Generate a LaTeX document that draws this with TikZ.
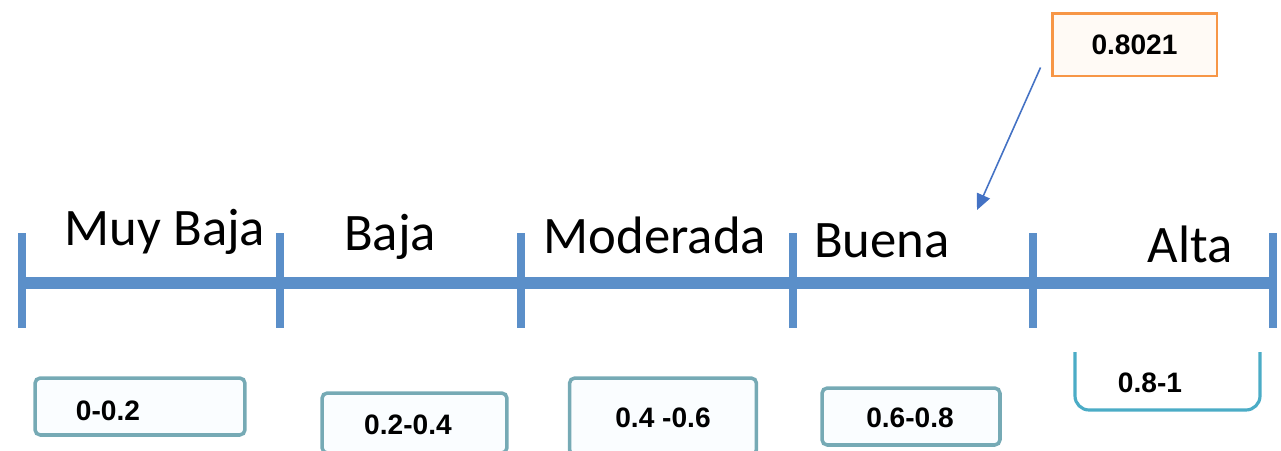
\documentclass[tikz,border=0pt]{standalone}
\usepackage{fontspec}
\setmainfont{Liberation Sans}
\newfontfamily\calibri{Carlito}
\usepackage{xcolor}
\usetikzlibrary{calc, positioning, arrows.meta}
\definecolor{axisblue}{HTML}{5B8FC9}
\definecolor{boxteal}{HTML}{76AAB5}
\definecolor{brackblue}{HTML}{4BACC6}
\definecolor{valorange}{HTML}{F79646}
\definecolor{arrowblue}{HTML}{4472C4}

\begin{document}
\begin{tikzpicture}[x=0.02cm,y=-0.02cm,
                    level label/.style={font=\calibri\fontsize{30}{32}\selectfont,anchor=base,inner sep=0pt},
                    range box/.style={draw=boxteal,line width=2pt,fill=cyan!2,rounded corners=3pt,inner sep=0pt},
                    range text/.style={font=\bfseries\fontsize{16}{18}\selectfont,inner sep=0pt},
                    tick line/.style={draw=axisblue,line width=5pt},
                    pointer/.style={draw=arrowblue,line width=0.9pt,-{Triangle[length=9pt,width=8pt]}}]

  \useasboundingbox (0,0) rectangle (1281,450);

  % axis and ticks
  \coordinate (t0) at (22,283);
  \coordinate (t1) at (280,283);
  \coordinate (t2) at (521,283);
  \coordinate (t3) at (793,283);
  \coordinate (t4) at (1033,283);
  \coordinate (t5) at (1273,283);
  \draw[axisblue,line width=6.5pt] (t0) -- (t5);
  \foreach \t in {t0,t1,t2,t3,t4,t5}
    \draw[tick line] ($(\t)+(0,-50)$) -- ($(\t)+(0,45)$);

  % level names
  \node[level label] (muybaja) at (165,245) {Muy Baja};
  \node[level label] (baja) at (390,250) {Baja};
  \node[level label] (moderada) at (655,253) {Moderada};
  \node[level label] (buena) at (882,257) {Buena};
  \node[level label] (alta) at (1190,262) {Alta};

  % range boxes
  \node[range box,minimum width=4.2cm,minimum height=1.14cm] (box1) at (140,406.5) {};
  \node[range box,minimum width=3.7cm,minimum height=1.2cm] (box2) at (414.5,423) {};
  \node[range box,minimum width=3.74cm,minimum height=1.54cm] (box3) at (663,416.5) {};
  \node[range box,minimum width=3.56cm,minimum height=1.14cm] (box4) at (911,416.5) {};
  \coordinate (brl) at (1075,352);
  \coordinate (brr) at (1260,352);
  \draw[brackblue,line width=1.8pt,rounded corners=8pt] (brl) |- (1167,410) -| (brr);

  \node[range text] (r1) at (108,411) {0-0.2};
  \node[range text] (r2) at (408,425) {0.2-0.4};
  \node[range text] (r3) at (663,418) {0.4 -0.6};
  \node[range text] (r4) at (910,418) {0.6-0.8};
  \node[range text] (r5) at (1150,383) {0.8-1};

  % value and pointer
  \node[draw=valorange,line width=1.7pt,fill=orange!4,minimum width=3.3cm,minimum height=1.26cm,
        font=\bfseries\fontsize{16}{18}\selectfont] (val) at (1134.5,44.5) {0.8021};
  \coordinate (hit) at (977,210);
  \draw[pointer] ([shift={(-0.2cm,0.2cm)}]val.south west) -- (hit);

\end{tikzpicture}
\end{document}
